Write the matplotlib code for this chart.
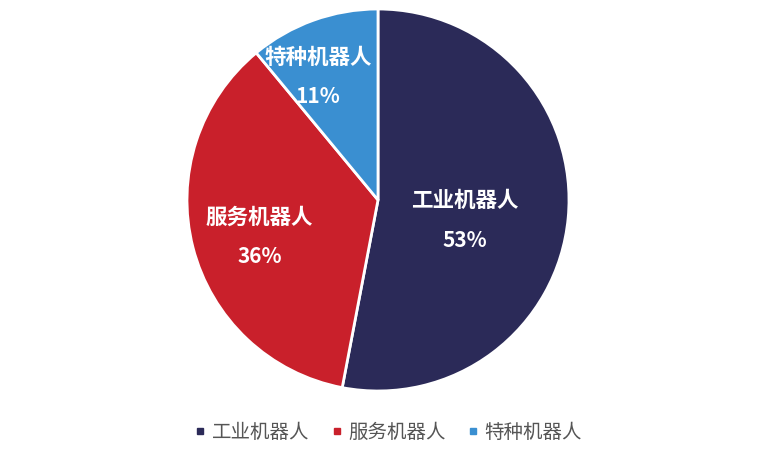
import matplotlib.pyplot as plt
from matplotlib.lines import Line2D

plt.rcParams['font.family'] = ['Noto Sans CJK SC', 'DejaVu Sans']

labels = ['工业机器人', '服务机器人', '特种机器人']
shares = [53, 36, 11]
colors = ['#2b2a58', '#c9202b', '#3a8fd1']
# label anchor points in pie units (radius = 1)
label_pos = [(0.455, -0.105), (-0.62, -0.19), (-0.315, 0.645)]

fig = plt.figure(figsize=(7.67, 4.58), dpi=100)
ax = fig.add_axes([187 / 767, 67 / 458, 382 / 767, 382 / 458])
ax.pie(shares, colors=colors, startangle=90, counterclock=False,
       wedgeprops=dict(edgecolor='white', linewidth=2))
ax.set_xlim(-1, 1)
ax.set_ylim(-1, 1)
ax.set_aspect('equal')

for lab, val, (x, y) in zip(labels, shares, label_pos):
    ax.text(x, y + 0.1, lab, color='white', fontsize=15.5, fontweight='semibold',
            ha='center', va='center')
    ax.text(x, y - 0.105, f'{val}%', color='white', fontsize=15, fontweight='semibold',
            ha='center', va='center')

handles = [Line2D([0], [0], marker='s', linestyle='', markersize=5,
                  markerfacecolor=c, markeredgecolor=c) for c in colors]
leg = fig.legend(handles, labels, loc='center', bbox_to_anchor=(0.505, 0.056),
                 ncol=3, frameon=False, fontsize=14, handletextpad=0.2,
                 columnspacing=1.0, handlelength=0.8)
for t in leg.get_texts():
    t.set_color('#555555')

fig.savefig('out.png', dpi=100)
